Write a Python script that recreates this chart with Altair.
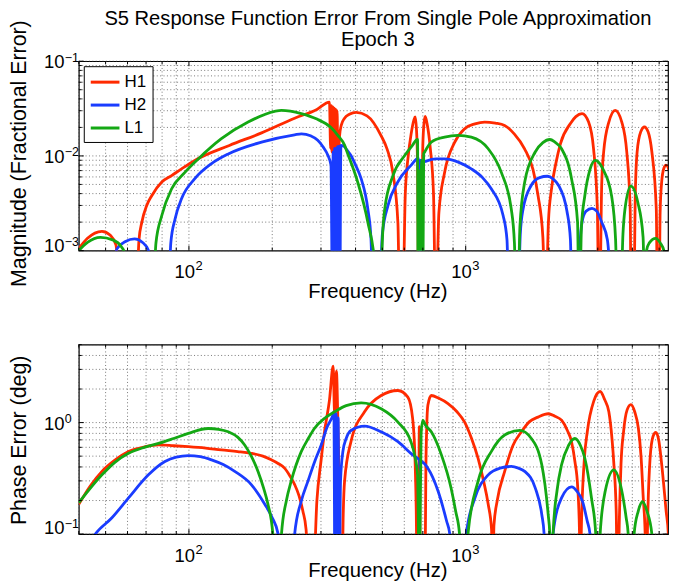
import altair as alt
import pandas as pd

FONT = "Liberation Sans"
SERIES = ["H1", "H2", "L1"]
COLORS = ["#ff2a00", "#1a3cff", "#14a814"]

X_DOMAIN = [40, 5382]
MAG_DOMAIN = [0.001, 0.1]
PH_DOMAIN = [0.1, 5]

X_MAJOR = [100, 1000]
X_MINOR = [40, 50, 60, 70, 80, 90, 200, 300, 400, 500, 600, 700, 800, 900,
           2000, 3000, 4000, 5000]
MAG_MAJOR = [0.001, 0.01, 0.1]
MAG_MINOR = [0.002, 0.003, 0.004, 0.005, 0.006, 0.007, 0.008, 0.009,
             0.02, 0.03, 0.04, 0.05, 0.06, 0.07, 0.08, 0.09]
PH_MAJOR = [0.1, 1]
PH_MINOR = [0.2, 0.3, 0.4, 0.5, 0.6, 0.7, 0.8, 0.9, 2, 3, 4, 5]

X_LABELS = [(100, "2"), (1000, "3")]
MAG_LABELS = [(0.1, "\u22121"), (0.01, "\u22122")]
MAG_LABEL_LOW = [(0.001, "\u22123")]
PH_LABELS = [(1, "0")]
PH_LABEL_LOW = [(0.1, "\u22121")]

TITLE = ["S5 Response Function Error From Single Pole Approximation", "Epoch 3"]
X_TITLE = "Frequency (Hz)"
MAG_TITLE = "Magnitude (Fractional Error)"
PH_TITLE = "Phase Error (deg)"

# ---- magnitude (fractional error), (frequency Hz, value) ----
H1_MAG = [
    (40, 1.05e-3), (43, 1.35e-3), (48.5, 1.6e-3), (52, 1.45e-3), (54.5, 1.15e-3), (56.5, 3e-4),
    (64.5, 3e-4), (66, 1.3e-3), (67.6, 2.0e-3), (70.4, 3.0e-3), (73.4, 3.8e-3), (79.8, 5.3e-3),
    (86.6, 6.2e-3), (94.1, 7.3e-3), (105, 8.96e-3), (140, 0.0129), (183, 0.0175), (241, 0.025),
    (290, 0.031), (322, 0.037),
    (325, 0.012), (327, 0.034), (329, 0.011), (331, 0.033), (333, 0.010), (335, 0.032),
    (337, 0.010), (339, 0.031), (341, 0.010), (343, 0.030), (345, 0.011), (347, 0.010),
    (350, 0.016), (355, 0.021), (365, 0.025), (380, 0.0275), (402, 0.0288), (440, 0.0265),
    (495, 0.0163), (520, 0.0118), (546, 6.6e-3), (569, 1.96e-3), (577, 3e-4),
    (593, 3e-4), (605, 4e-3), (620, 0.010), (635, 0.017), (650, 0.024), (657, 0.0258),
    (664, 0.019), (670, 0.008), (676, 3e-4),
    (690, 3e-4), (700, 0.013), (708, 0.023), (714, 0.0262), (725, 0.022), (745, 0.012),
    (765, 0.004), (778, 3e-4),
    (783, 3e-4), (800, 2.5e-3), (839, 6.7e-3), (913, 0.014), (991, 0.0194), (1080, 0.0218),
    (1171, 0.0228), (1280, 0.0222), (1382, 0.021), (1500, 0.017), (1632, 0.0119),
    (1750, 0.0072), (1826, 3.8e-3), (1900, 1.4e-3), (1937, 3e-4),
    (1950, 3e-4), (1990, 2e-3), (2040, 4.4e-3), (2120, 8.5e-3), (2200, 0.0135), (2390, 0.022),
    (2500, 0.026), (2632, 0.028), (2780, 0.0228), (2897, 0.0119), (2990, 2.75e-3), (3025, 3e-4),
    (3050, 3e-4), (3100, 5e-3), (3151, 0.011), (3290, 0.0228), (3469, 0.0303), (3664, 0.0228),
    (3819, 0.011), (3929, 2.75e-3), (3960, 3e-4),
    (4050, 3e-4), (4100, 4e-3), (4162, 0.011), (4290, 0.018), (4423, 0.0202), (4560, 0.018),
    (4706, 0.011), (4882, 2.75e-3), (4930, 3e-4),
    (5000, 3e-4), (5040, 2.5e-3), (5105, 5.3e-3), (5200, 7.4e-3), (5293, 8.0e-3),
    (5420, 7.2e-3), (5551, 5.3e-3), (5700, 1.84e-3), (5784, 3e-4),
]
H2_MAG = [
    (52, 3e-4), (55, 1.05e-3), (59, 1.25e-3), (63.6, 1.33e-3), (68, 1.22e-3), (71.5, 1.0e-3), (74, 3e-4),
    (84, 3e-4), (86, 1.2e-3), (89.1, 2.16e-3), (94.1, 3.55e-3), (105, 5.75e-3), (120.7, 8.3e-3),
    (138.7, 0.0105), (183, 0.014), (241, 0.0167), (255, 0.0171), (275, 0.0163), (292, 0.0146),
    (305, 0.0125), (318, 0.0101), (326, 0.008),
    (330, 3e-4), (332, 0.011), (334, 3e-4), (336, 0.012), (338, 3e-4), (340, 0.012),
    (342, 3e-4), (344, 0.0125), (346, 3e-4), (349, 0.0127), (351, 3e-4), (354, 0.0129),
    (362, 0.0127), (373, 0.0115), (385, 0.0101), (400, 0.008), (419, 5.75e-3), (443, 2.75e-3),
    (455, 1.3e-3), (462, 3e-4),
    (487, 3e-4), (500, 1.5e-3), (524, 3.0e-3), (568, 5.3e-3), (633, 7.9e-3), (675, 9.5e-3),
    (681, 3e-4), (686, 9e-3), (690, 3e-4), (700, 8.5e-3), (720, 8.8e-3), (780, 9.3e-3),
    (839, 9.3e-3), (940, 8.6e-3), (1048, 7.3e-3), (1150, 5.9e-3), (1237, 4.5e-3),
    (1365, 2.35e-3), (1410, 1.3e-3), (1432, 3e-4),
    (1545, 3e-4), (1575, 1.5e-3), (1612, 2.75e-3), (1726, 4.9e-3), (1850, 5.9e-3), (1974, 6.1e-3),
    (2070, 5.7e-3), (2164, 4.9e-3), (2322, 2.6e-3), (2390, 1.3e-3), (2420, 3e-4),
    (2559, 3e-4), (2590, 1.2e-3), (2632, 2.0e-3), (2720, 2.6e-3), (2860, 2.8e-3), (2980, 2.6e-3),
    (3100, 2.0e-3), (3250, 1.3e-3), (3373, 3e-4),
]
L1_MAG = [
    (40, 1.0e-3), (43, 1.22e-3), (47.9, 1.38e-3), (53, 1.30e-3), (57, 1.1e-3), (58.5, 9.5e-4), (61, 3e-4),
    (74, 3e-4), (76, 1.2e-3), (79.8, 2.35e-3), (86.6, 4.5e-3), (96.7, 6.7e-3), (108.1, 9.3e-3),
    (131, 0.0152), (163.6, 0.0228), (204, 0.0296), (216, 0.0303), (254.6, 0.028), (290, 0.0245),
    (326, 0.0199), (345, 0.0165), (365, 0.013), (375, 0.0105), (408, 5.2e-3), (443, 2.0e-3),
    (470, 7e-4), (478, 3e-4),
    (493, 3e-4), (500, 1.3e-3), (510, 2.75e-3), (546, 6.2e-3), (602, 0.0101), (640, 0.0128),
    (670, 0.0149), (673, 3e-4), (680, 0.007), (686, 3e-4), (693, 0.009), (700, 3e-4),
    (705, 0.0105), (711, 0.011), (751, 0.014), (839, 0.0158), (938, 0.0165), (1048, 0.0158),
    (1206, 0.0119), (1345, 6.7e-3), (1461, 2.75e-3), (1500, 1.2e-3), (1523, 3e-4),
    (1545, 3e-4), (1570, 1.8e-3), (1634, 5.3e-3), (1783, 0.011), (1900, 0.0138), (2014, 0.0149),
    (2100, 0.014), (2220, 0.0119), (2412, 5.75e-3), (2536, 2.0e-3), (2565, 3e-4),
    (2580, 3e-4), (2620, 1.8e-3), (2694, 3.8e-3), (2813, 7.2e-3), (2938, 8.96e-3), (3060, 8.2e-3),
    (3136, 7.2e-3), (3365, 3.8e-3), (3480, 1.3e-3), (3532, 3e-4),
    (3630, 3e-4), (3700, 1.5e-3), (3760, 2.7e-3), (3950, 4.8e-3), (4190, 3.2e-3), (4373, 1.4e-3),
    (4440, 3e-4),
    (4470, 3e-4), (4500, 1.0e-3), (4600, 1.2e-3), (4860, 1.35e-3), (5050, 1.2e-3), (5200, 1.0e-3),
    (5260, 3e-4),
]

# ---- phase error (deg), (frequency Hz, value) ----
H1_PH = [
    (40, 0.185), (44, 0.27), (48.5, 0.365), (54, 0.46), (60.5, 0.55), (69.5, 0.608), (77.6, 0.63),
    (88, 0.62), (99.5, 0.608), (115, 0.59), (131, 0.568), (150, 0.55), (168, 0.53), (185, 0.5),
    (198.5, 0.463), (210, 0.43), (221.6, 0.39), (232, 0.33), (241, 0.278), (250, 0.22),
    (258, 0.161), (265, 0.11), (272, 0.03),
    (280, 0.03), (290, 0.2), (300, 0.45), (309, 0.83), (322, 1.6), (332, 3.2), (336, 1.2),
    (341, 2.9), (346, 0.8), (350, 0.2), (353, 0.03),
    (357, 0.03), (361, 0.15), (365, 0.297), (385, 0.674), (431, 1.25), (495, 1.75), (569, 1.94),
    (618, 1.69), (643, 1.09), (657, 0.418), (663, 0.15), (668, 0.03),
    (674, 0.03), (680, 0.92), (686, 0.03),
    (712, 0.03), (718, 0.4), (723, 0.9), (730, 1.43), (751, 1.75), (800, 1.65), (863, 1.48),
    (930, 1.25), (991, 1.01), (1050, 0.72), (1108, 0.479), (1160, 0.3), (1206, 0.185),
    (1240, 0.11), (1252, 0.03),
    (1265, 0.12), (1300, 0.2), (1383, 0.365), (1480, 0.62), (1590, 0.827), (1700, 1.02),
    (1826, 1.12), (1986, 1.2), (2100, 1.14), (2220, 1.05), (2330, 0.85), (2412, 0.674),
    (2480, 0.45), (2540, 0.26), (2578, 0.1), (2595, 0.03),
    (2600, 0.03), (2615, 0.1), (2680, 0.45), (2750, 0.827), (2900, 1.55), (3060, 1.9),
    (3180, 1.6), (3290, 1.25), (3380, 0.7), (3432, 0.418), (3500, 0.15), (3530, 0.03),
    (3555, 0.03), (3582, 0.1), (3640, 0.42), (3718, 0.827), (3830, 1.3), (3952, 1.45),
    (4080, 1.25), (4207, 0.885), (4300, 0.5), (4380, 0.211), (4450, 0.1), (4480, 0.03),
    (4500, 0.03), (4534, 0.1), (4637, 0.479), (4750, 0.75), (4861, 0.815), (4980, 0.7),
    (5109, 0.418), (5300, 0.16), (5397, 0.1), (5430, 0.03),
    (5450, 0.03), (5473, 0.1), (5600, 0.17), (5800, 0.26),
]
H2_PH = [
    (42, 0.07), (45.9, 0.1), (52.7, 0.14), (60.5, 0.211), (71.4, 0.34), (81.9, 0.447), (90, 0.49),
    (99.5, 0.506), (110, 0.495), (120.7, 0.463), (133, 0.42), (146.4, 0.365), (168, 0.278),
    (188, 0.185), (200, 0.14), (210, 0.1), (216, 0.03),
    (235, 0.03), (241, 0.1), (255, 0.2), (269, 0.297), (285, 0.45), (300.6, 0.63), (315, 0.9),
    (331, 1.16), (334, 1.25), (337, 0.03), (340, 1.2), (343, 0.03), (346, 1.1), (349, 0.03),
    (353, 0.3), (360, 0.55), (370, 0.72), (385, 0.85), (431, 0.93), (495, 0.827), (569, 0.674),
    (643, 0.513), (681, 0.46), (684, 0.38), (688, 0.45), (730, 0.39), (795, 0.242), (853, 0.131),
    (876, 0.1), (885, 0.03),
    (995, 0.03), (1005, 0.1), (1080, 0.211), (1206, 0.34), (1330, 0.39), (1461, 0.404),
    (1550, 0.39), (1634, 0.365), (1783, 0.26), (1883, 0.15), (1920, 0.1), (1930, 0.03),
    (2055, 0.03), (2068, 0.1), (2220, 0.211), (2412, 0.265), (2530, 0.24), (2640, 0.198),
    (2750, 0.13), (2813, 0.1), (2830, 0.03),
]
L1_PH = [
    (40, 0.191), (48.5, 0.34), (54, 0.44), (60.5, 0.53), (69, 0.6), (77.6, 0.65), (88, 0.72),
    (99.5, 0.8), (117.4, 0.885), (128, 0.87), (138.7, 0.827), (150, 0.74), (159, 0.63),
    (168, 0.5), (177.7, 0.365), (186, 0.26), (193, 0.185), (201, 0.1), (206, 0.03),
    (212, 0.03), (216, 0.1), (225, 0.2), (234, 0.297), (254.6, 0.549), (270, 0.72), (284, 0.885),
    (310, 1.1), (336, 1.25), (370, 1.42), (419, 1.5), (495, 1.33), (569, 1.01), (634, 0.674),
    (655, 0.5), (670, 0.34), (675, 0.1), (678, 0.03), (684, 0.1), (690, 0.8), (700, 1.05),
    (715, 0.95), (751, 0.827), (817, 0.513), (885, 0.26), (920, 0.16), (950, 0.1), (960, 0.03),
    (1005, 0.03), (1019, 0.1), (1108, 0.297), (1237, 0.549), (1383, 0.773), (1567, 0.85),
    (1727, 0.72), (1883, 0.418), (1986, 0.15), (2013, 0.1), (2025, 0.03),
    (2055, 0.03), (2068, 0.1), (2140, 0.25), (2220, 0.418), (2350, 0.62), (2480, 0.72),
    (2600, 0.62), (2694, 0.479), (2847, 0.211), (2950, 0.1), (2975, 0.03),
    (3040, 0.03), (3060, 0.1), (3200, 0.25), (3432, 0.377), (3620, 0.28), (3800, 0.14),
    (3865, 0.1), (3890, 0.03),
    (4030, 0.03), (4059, 0.1), (4200, 0.16), (4355, 0.195), (4520, 0.16), (4706, 0.1),
    (4730, 0.03),
]

W, H = 591, 190
CX = 300  # horizontal centre of the reference titles, measured from the plot's left edge
XSCALE = alt.Scale(type="log", domain=X_DOMAIN, nice=False)
TEXT = dict(font=FONT, color="black", baseline="alphabetic")
GRID = dict(strokeDash=[1, 2.4], color="#444444", strokeWidth=0.9, opacity=0.8)
color_scale = alt.Scale(domain=SERIES, range=COLORS)


def table(groups):
    rows = []
    for name, pairs in groups:
        for f, v in pairs:
            rows.append({"series": name, "f": f, "v": v})
    return pd.DataFrame(rows)


def text_layer(s, fontsize, x, y, **kw):
    return alt.Chart(pd.DataFrame({"t": [s]})).mark_text(fontSize=fontsize, **TEXT, **kw).encode(
        text="t:N", x=alt.value(x), y=alt.value(y))


def panel(df, ydomain, ymajor, yminor, ylabels, ylow, low_shift, ytitle, ytitle_y, xtitle_y,
          legend, extra=()):
    yscale = alt.Scale(type="log", domain=ydomain, nice=False)

    def xf():
        return alt.X("f:Q", scale=XSCALE, axis=None)

    def yf():
        return alt.Y("v:Q", scale=yscale, axis=None)

    layers = []
    # dotted grid
    layers.append(alt.Chart(pd.DataFrame({"f": X_MAJOR + X_MINOR})).mark_rule(**GRID).encode(
        x=xf(), y=alt.value(0), y2=alt.value(H)))
    layers.append(alt.Chart(pd.DataFrame({"v": ymajor + yminor})).mark_rule(**GRID).encode(
        y=yf(), x=alt.value(0), x2=alt.value(W)))
    # curves
    layers.append(alt.Chart(df).mark_line(clip=True, strokeWidth=2.8, interpolate="monotone").encode(
        x=xf(), y=yf(),
        color=alt.Color("series:N", scale=color_scale, legend=legend),
    ))
    # inward tick marks on all four sides
    for vals, ln in ((X_MAJOR, 5), (X_MINOR, 3)):
        d = pd.DataFrame({"f": vals})
        layers.append(alt.Chart(d).mark_rule(color="black", strokeWidth=1).encode(
            x=xf(), y=alt.value(H), y2=alt.value(H - ln)))
        layers.append(alt.Chart(d).mark_rule(color="black", strokeWidth=1).encode(
            x=xf(), y=alt.value(0), y2=alt.value(ln)))
    for vals, ln in ((ymajor, 5), (yminor, 3)):
        d = pd.DataFrame({"v": vals})
        layers.append(alt.Chart(d).mark_rule(color="black", strokeWidth=1).encode(
            y=yf(), x=alt.value(0), x2=alt.value(ln)))
        layers.append(alt.Chart(d).mark_rule(color="black", strokeWidth=1).encode(
            y=yf(), x=alt.value(W), x2=alt.value(W - ln)))
    # x tick labels: 10 with raised exponent
    xl = pd.DataFrame({"f": [a for a, _ in X_LABELS], "e": [b for _, b in X_LABELS]})
    layers.append(alt.Chart(xl).mark_text(text="10", align="right", dx=6, fontSize=18.5, **TEXT)
                  .encode(x=xf(), y=alt.value(H + 27.7)))
    layers.append(alt.Chart(xl).mark_text(align="left", dx=6.5, fontSize=13, **TEXT)
                  .encode(x=xf(), y=alt.value(H + 19.5), text="e:N"))
    # y tick labels
    for labs, shift in ((ylabels, 0), (ylow, low_shift)):
        yl = pd.DataFrame({"v": [a for a, _ in labs], "e": [b for _, b in labs]})
        layers.append(alt.Chart(yl).mark_text(text="10", align="right", dy=7 + shift,
                                              fontSize=18.5, **TEXT)
                      .encode(x=alt.value(-14.3), y=yf()))
        layers.append(alt.Chart(yl).mark_text(align="left", dy=0.5 + shift, fontSize=12.5, **TEXT)
                      .encode(x=alt.value(-14), y=yf(), text="e:N"))
    # axis titles
    layers.append(text_layer(X_TITLE, 20.3, CX, H + xtitle_y, align="center"))
    layers.append(text_layer(ytitle, 21.4, -52.5, ytitle_y, align="center", angle=270))
    layers.extend(extra)
    return alt.layer(*layers).properties(width=W, height=H)


mag_df = table([("H1", H1_MAG), ("H2", H2_MAG), ("L1", L1_MAG)])
ph_df = table([("H1", H1_PH), ("H2", H2_PH), ("L1", L1_PH)])

legend = alt.Legend(
    title=None, orient="none", legendX=5, legendY=5, strokeColor="black", fillColor="white",
    padding=5.5, cornerRadius=0, symbolType="M-1,0H2.2", symbolSize=324, symbolStrokeWidth=3,
    labelFont=FONT, labelFontSize=17, labelColor="black", labelOffset=14.3, rowPadding=4)

title_layers = [
    text_layer(TITLE[0], 20.2, CX, -36.8, align="center"),
    text_layer(TITLE[1], 20.2, CX, -14.8, align="center"),
]

top = panel(mag_df, MAG_DOMAIN, MAG_MAJOR, MAG_MINOR, MAG_LABELS, MAG_LABEL_LOW, -5.5,
            MAG_TITLE, 92.7, 47.5, legend, title_layers)
bottom = panel(ph_df, PH_DOMAIN, PH_MAJOR, PH_MINOR, PH_LABELS, PH_LABEL_LOW, -7,
               PH_TITLE, 96, 43, None)

chart = alt.vconcat(top, bottom, spacing=39.3).resolve_scale(color="independent").properties(
    padding={"left": 0, "top": -1.5, "right": 0, "bottom": 0}, background="white",
).configure_view(stroke="black", strokeWidth=1.2)

chart.save("out.html", embed_options={"renderer": "svg", "actions": False})
